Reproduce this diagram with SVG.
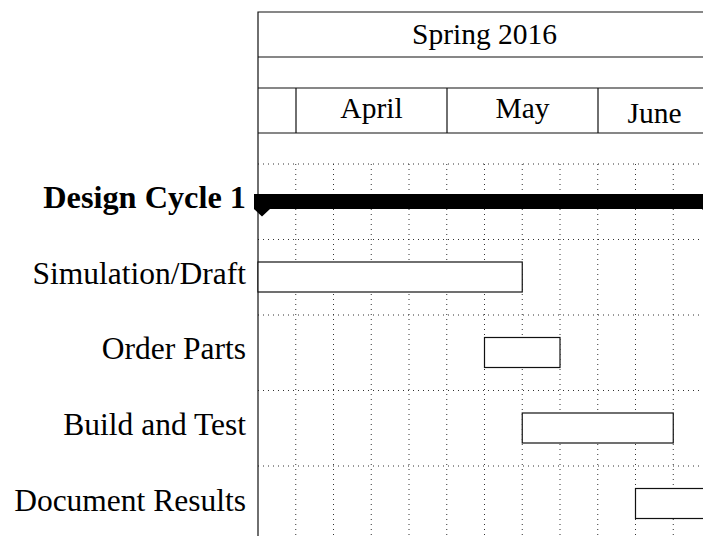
<svg xmlns="http://www.w3.org/2000/svg" width="703" height="536" viewBox="0 0 703 536">
<defs>
<style>
text{font-family:"Liberation Serif","Times New Roman",serif;fill:#000}
.hdr{font-size:29.5px;text-anchor:middle}
.lbl{font-size:31.5px;text-anchor:end}
.bold{font-weight:bold;font-size:32.3px}
.frame{stroke:#111;stroke-width:1.2;fill:none}
.grid{stroke:#333;stroke-width:1;stroke-dasharray:1 4;fill:none}
.bar{fill:#fff;stroke:#111;stroke-width:1.2}
.group{fill:#000;stroke:none}
</style>
</defs>
<rect width="703" height="536" fill="#fff"/>
<g id="grid">
<path class="grid" d="M258 164H711M258 239.5H711M258 315H711M258 390.5H711M258 466H711"/>
<path class="grid" d="M295.75 164V536M333.5 164V536M371.25 164V536M409 164V536M446.75 164V536M484.5 164V536M522.25 164V536M560 164V536M597.75 164V536M635.5 164V536M673.25 164V536"/>
</g>
<g id="header">
<path class="frame" d="M258 536V12H711M258 57H711M258 88H711M258 133H711M296 88V133M447 88V133M598 88V133"/>
<text class="hdr" x="484.5" y="44">Spring 2016</text>
<text class="hdr" x="371.5" y="118">April</text>
<text class="hdr" x="522.5" y="117.5">May</text>
<text class="hdr" x="654.5" y="123">June</text>
</g>
<g id="design-cycle-1">
<text class="lbl bold" x="246" y="207.5">Design Cycle 1</text>
<path class="group" d="M254 194H720V209H718L710 216.5L702 209H270L262 216.5L254 209Z"/>
</g>
<g id="simulation-draft">
<text class="lbl" x="246" y="283.5">Simulation/Draft</text>
<rect class="bar" x="258" y="262" width="264.25" height="30"/>
</g>
<g id="order-parts">
<text class="lbl" x="246" y="359">Order Parts</text>
<rect class="bar" x="484.5" y="337.5" width="75.5" height="30"/>
</g>
<g id="build-and-test">
<text class="lbl" x="246" y="434.5">Build and Test</text>
<rect class="bar" x="522.25" y="413" width="151" height="30"/>
</g>
<g id="document-results">
<text class="lbl" x="246" y="510.5">Document Results</text>
<rect class="bar" x="635.5" y="488.5" width="75.5" height="30"/>
</g>
</svg>
